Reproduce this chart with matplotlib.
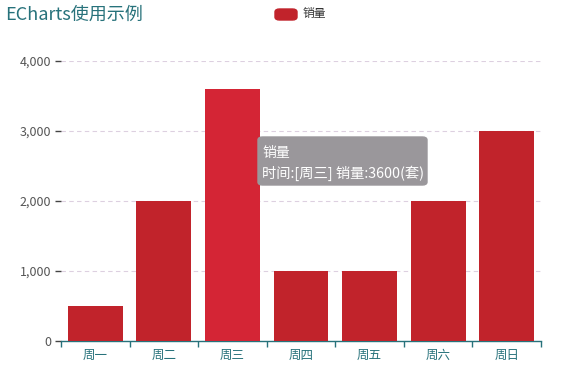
import matplotlib.pyplot as plt
from matplotlib.patches import FancyBboxPatch
from matplotlib.ticker import FuncFormatter

plt.rcParams['font.family'] = ['Noto Sans CJK SC', 'DejaVu Sans']

days = ['周一', '周二', '周三', '周四', '周五', '周六', '周日']
sales = [500, 2000, 3600, 1000, 1000, 2000, 3000]
bar_colors = ['#c1232b', '#c1232b', '#d42535', '#c1232b', '#c1232b', '#c1232b', '#c1232b']
teal = '#27727b'

fig = plt.figure(figsize=(5.64, 3.72), dpi=100)
ax = fig.add_axes([61 / 564, 1 - 341 / 372, 480 / 564, 280 / 372])

x = list(range(len(days)))
ax.bar(x, sales, width=0.8, color=bar_colors, zorder=3)

ax.set_xlim(-0.5, len(days) - 0.5)
ax.set_ylim(0, 4000)
ax.set_yticks([0, 1000, 2000, 3000, 4000])
ax.yaxis.set_major_formatter(FuncFormatter(lambda v, p: f'{int(v):,}'))
ax.grid(axis='y', color='#ddd0e0', linestyle=(0, (4, 3)), linewidth=0.8, zorder=0)

ax.set_xticks(x)
ax.set_xticklabels(days, color=teal, fontsize=9)
ax.set_xticks([i - 0.5 for i in range(len(days) + 1)], minor=True)
ax.tick_params(axis='x', which='major', length=0, pad=6)
ax.tick_params(axis='x', which='minor', length=4, color=teal, width=1)
ax.tick_params(axis='y', length=4, color='#444444', width=1, labelsize=9, labelcolor='#555555', pad=3)

for s in ['top', 'right', 'left']:
    ax.spines[s].set_visible(False)
ax.spines['bottom'].set_color(teal)
ax.spines['bottom'].set_linewidth(1)

# title
fig.text(5 / 564, 1 - 15 / 372, 'ECharts使用示例', color=teal, fontsize=13, va='center', ha='left')

# legend
fig.patches.append(FancyBboxPatch((275 / 564, 1 - 20 / 372), 22 / 564, 11 / 372,
                                  boxstyle='round,pad=0,rounding_size=0.008',
                                  transform=fig.transFigure, color='#c1232b'))
fig.text(303 / 564, 1 - 14 / 372, '销量', fontsize=8.5, color='#333333', va='center', ha='left')

# tooltip
fig.patches.append(FancyBboxPatch((258 / 564, 1 - 185 / 372), 169 / 564, 48 / 372,
                                  boxstyle='round,pad=0,rounding_size=0.008',
                                  transform=fig.transFigure, color='#9a979b'))
fig.text(262 / 564, 1 - 153 / 372, '销量', fontsize=10, color='white', va='center', ha='left',
         fontweight='medium')
fig.text(262 / 564, 1 - 173 / 372, '时间:[周三] 销量:3600(套)', fontsize=10.3, color='white',
         va='center', ha='left', fontweight='medium')

fig.savefig('out.png', dpi=100)
